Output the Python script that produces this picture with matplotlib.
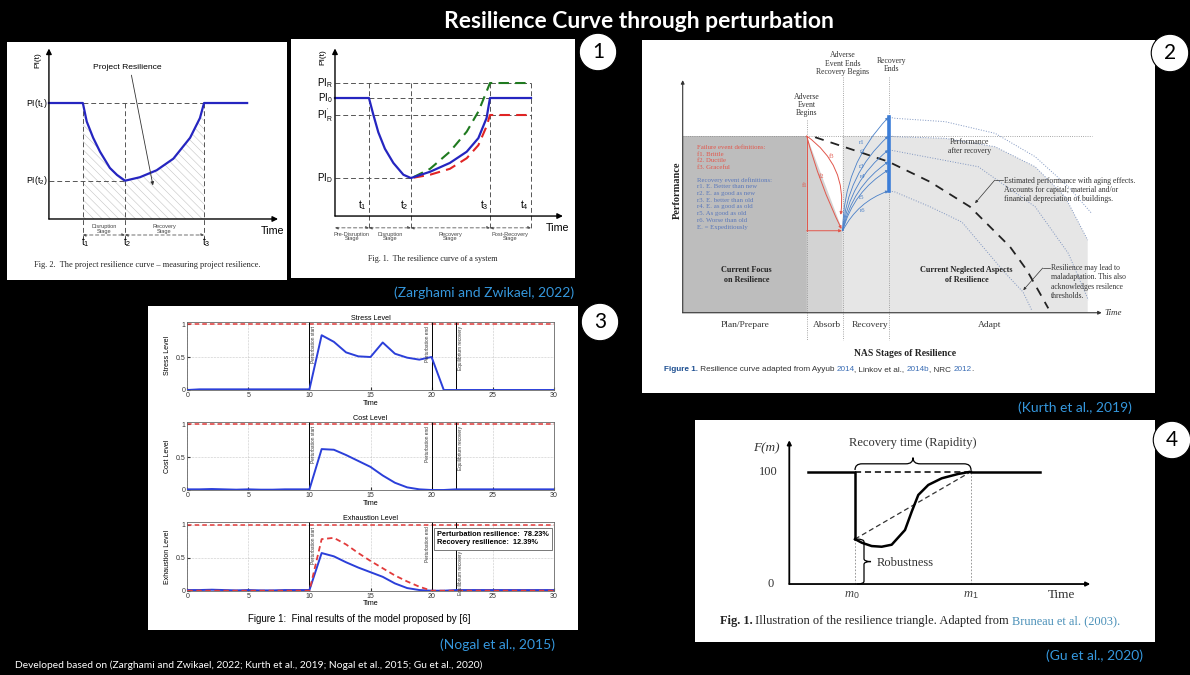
import matplotlib
matplotlib.use('Agg')
import matplotlib.pyplot as plt
from matplotlib.path import Path
from matplotlib.patches import PathPatch

plt.rcParams['font.family'] = ['Liberation Sans', 'DejaVu Sans']
plt.rcParams['mathtext.fontset'] = 'custom'
plt.rcParams['mathtext.rm'] = 'Liberation Sans'
plt.rcParams['mathtext.it'] = 'Liberation Serif:italic'
plt.rcParams['hatch.linewidth'] = 0.4

W, H = 1190, 675

# ---- panel 1 left: project resilience curve (Zarghami and Zwikael)
p1a_time = [0.0, 1.48, 1.65, 1.93, 2.23, 2.66, 2.97, 3.32, 3.97, 4.70, 5.43, 6.16, 6.59, 6.77, 8.65]
p1a_pi = [1.0, 1.0, 0.84, 0.70, 0.58, 0.44, 0.38, 0.33, 0.36, 0.42, 0.52, 0.70, 0.87, 1.0, 1.0]
p1a_marks = [1.48, 3.32, 6.77]
p1a_mark_names = ['t$_\\mathrm{1}$', 't$_\\mathrm{2}$', 't$_\\mathrm{3}$']
p1a_levels = [1.0, 0.33]
p1a_level_names = ['PI(t$_\\mathrm{1}$)', 'PI(t$_\\mathrm{2}$)']
p1a_stages = ['Disruption\nStage', 'Recovery\nStage']

# ---- panel 1 right: resilience curve of a system
p1b_marks = [1.49, 3.33, 6.80, 8.60]
p1b_mark_names = ['t$_\\mathrm{1}$', 't$_\\mathrm{2}$', 't$_\\mathrm{3}$', 't$_\\mathrm{4}$']
p1b_levels = [1.127, 1.0, 0.856, 0.322]
p1b_level_names = ['PI$_\\mathrm{R}$', 'PI$_\\mathrm{0}$', "PI$_\\mathrm{R}^{'}$", 'PI$_\\mathrm{D}$']
p1b_stages = ['Pre-Disruption\nStage', 'Disruption\nStage', 'Recovery\nStage', 'Post-Recovery\nStage']
p1b_blue_t = [0.0, 1.49, 1.68, 1.90, 2.19, 2.56, 3.0, 3.33, 4.17, 5.04, 5.78, 6.29, 6.65, 6.80, 8.60]
p1b_blue_pi = [1.0, 1.0, 0.86, 0.71, 0.57, 0.45, 0.35, 0.322, 0.375, 0.45, 0.545, 0.66, 0.83, 1.0, 1.0]
p1b_alt_t = [3.45, 4.17, 5.04, 5.78, 6.29, 6.65, 6.80, 8.60]
p1b_green_pi = [0.33, 0.40, 0.545, 0.715, 0.885, 1.055, 1.127, 1.127]
p1b_red_pi = [0.325, 0.35, 0.40, 0.49, 0.60, 0.76, 0.856, 0.856]

# ---- panel 2: Kurth et al. resilience stages
p2_stage_x = [3.1, 4.0, 5.165]
p2_perf = 1.0
p2_low = 0.464
p2_rec_levels = [1.106, 1.0, 0.921, 0.855, 0.808, 0.689]
p2_rec_names = ['r1', 'r2', 'r3', 'r4', 'r5', 'r6']
p2_outer_t = [5.165, 5.31, 6.56, 7.81, 8.81, 9.64, 10.225]
p2_outer_y = [1.106, 1.10, 1.081, 1.015, 0.883, 0.713, 0.562]
p2_after_t = [5.165, 5.31, 6.56, 7.81, 8.81, 9.56, 10.125]
p2_after_y = [1.0, 0.996, 0.987, 0.939, 0.826, 0.656, 0.411]
p2_mid_t = [5.165, 5.31, 7.39, 8.81, 9.64, 10.14]
p2_mid_y = [0.921, 0.915, 0.826, 0.60, 0.336, 0.072]
p2_inner_t = [5.165, 5.31, 6.18, 6.98, 8.06, 8.51, 8.725]
p2_inner_y = [0.689, 0.683, 0.60, 0.513, 0.225, 0.117, 0.015]
p2_aging_t = [3.31, 5.14, 6.18, 7.18, 7.68, 8.18, 8.6, 8.93, 9.14]
p2_aging_y = [0.993, 0.855, 0.741, 0.60, 0.487, 0.374, 0.242, 0.11, 0.025]
p2_fail_lines = ['Failure event definitions:', 'f1. Brittle', 'f2. Ductile', 'f3. Graceful']
p2_rec_lines = ['Recovery event definitions:', 'r1. E. Better than new', 'r2. E. as good as new',
                'r3. E. better than old', 'r4. E. as good as old', 'r5. As good as old',
                'r6. Worse than old', 'E. = Expeditiously']
p2_stage_names = ['Plan/Prepare', 'Absorb', 'Recovery', 'Adapt']

# ---- panel 3: Nogal et al. model results
p3_time = list(range(31))
p3_stress = [0.0, 0.01, 0.01, 0.01, 0.01, 0.01, 0.01, 0.01, 0.01, 0.01, 0.01, 0.83, 0.73, 0.57, 0.51, 0.50,
             0.72, 0.55, 0.49, 0.46, 0.50, 0.0, 0.0, 0.0, 0.0, 0.0, 0.0, 0.0, 0.0, 0.0, 0.0]
p3_cost = [0.01, 0.01, 0.015, 0.01, 0.005, 0.01, 0.005, 0.005, 0.01, 0.01, 0.01, 0.62, 0.61, 0.53, 0.44, 0.35,
           0.22, 0.11, 0.04, 0.01, 0.0, 0.0, 0.01, 0.01, 0.01, 0.01, 0.01, 0.01, 0.01, 0.01, 0.01]
p3_exhaust = [0.01, 0.01, 0.015, 0.01, 0.005, 0.01, 0.005, 0.005, 0.01, 0.01, 0.01, 0.57, 0.52, 0.43, 0.35, 0.28,
              0.21, 0.11, 0.04, 0.01, 0.0, 0.0, 0.01, 0.01, 0.01, 0.01, 0.01, 0.01, 0.01, 0.01, 0.01]
p3_exhaust_max = [0.0, 0.0, 0.0, 0.0, 0.0, 0.0, 0.0, 0.0, 0.0, 0.0, 0.0, 0.78, 0.80, 0.70, 0.57, 0.45,
                  0.34, 0.23, 0.14, 0.06, 0.0, 0.0, 0.0, 0.0, 0.0, 0.0, 0.0, 0.0, 0.0, 0.0, 0.0]
p3_events = [10, 20, 22]
p3_event_names = ['Perturbation start', 'Perturbation end', 'Equilibrium recovery']
p3_resilience = [78.23, 12.39]

# ---- panel 4: Gu et al. resilience triangle
p4_marks = [6.57, 18.17]
p4_full = 100
p4_drop = 40
p4_curve_t = [6.57, 7.24, 8.24, 9.24, 10.24, 11.57, 12.24, 12.9, 13.9, 15.24, 16.9, 18.17]
p4_curve_f = [40, 36.8, 33.8, 33.2, 35.0, 48.1, 64.4, 79.3, 88.2, 94.1, 98.0, 100]
p4_span = [1.9, 25.1]

CITE = '#3597dc'


def box(x0, y0, x1, y1):
    return [x0 / W, 1 - y1 / H, (x1 - x0) / W, (y1 - y0) / H]


def white_panel(fig, rect, xlim=None, ylim=None):
    ax = fig.add_axes(rect)
    ax.set_facecolor('white')
    ax.set_xticks([])
    ax.set_yticks([])
    for s in ax.spines.values():
        s.set_visible(False)
    if xlim:
        ax.set_xlim(xlim)
    if ylim:
        ax.set_ylim(ylim)
    return ax


def arrow(ax, start, end, color='black', lw=1.0, size=8, style='-|>', rad=0.0, ls='-'):
    ax.annotate('', xy=end, xytext=start,
                arrowprops=dict(arrowstyle=style, color=color, lw=lw, mutation_scale=size,
                                shrinkA=0, shrinkB=0, ls=ls,
                                connectionstyle=f'arc3,rad={rad}'))


def chain_text(ax, x, y, pieces, **kw):
    prev = ax.text(x, y, pieces[0][0], color=pieces[0][1], fontweight=pieces[0][2],
                   transform=ax.transAxes, va='baseline', ha='left', **kw)
    for txt, color, weight in pieces[1:]:
        prev = ax.annotate(txt, xy=(1, 0), xycoords=prev, color=color, fontweight=weight,
                           va='bottom', ha='left', **kw)


def brace(ax, x0, x1, y0, h, r, vertical=False, **kw):
    mid = (x0 + x1) / 2
    pts = [(x0, y0), (x0, y0 + h / 2), (x0 + r, y0 + h / 2), (mid - r, y0 + h / 2),
           (mid, y0 + h / 2), (mid, y0 + h), (mid, y0 + h / 2), (mid + r, y0 + h / 2),
           (x1 - r, y0 + h / 2), (x1, y0 + h / 2), (x1, y0)]
    if vertical:
        pts = [(b, a) for a, b in pts]
    codes = [Path.MOVETO, Path.CURVE3, Path.CURVE3, Path.LINETO, Path.CURVE3, Path.CURVE3,
             Path.CURVE3, Path.CURVE3, Path.LINETO, Path.CURVE3, Path.CURVE3]
    ax.add_patch(PathPatch(Path(pts, codes), fc='none', **kw))


def panel_project_curve(fig):
    ax = white_panel(fig, box(7, 42, 287, 280), (-1.83, 10.39), (-0.526, 1.526))
    t1, t2, t3 = p1a_marks
    hi, lo = p1a_levels
    dash = dict(color='#555555', lw=0.7, dashes=(5, 3))
    ax.fill_between(p1a_time[1:14], 0, p1a_pi[1:14], facecolor='none', edgecolor='#c4c4c4',
                    hatch='\\\\\\\\', lw=0)
    ax.plot([t1, t3], [hi, hi], **dash)
    ax.plot([0, t2], [lo, lo], **dash)
    for t, name in zip(p1a_marks, p1a_mark_names):
        ax.plot([t, t], [hi, -0.16], **dash)
        ax.text(t + 0.1, -0.2, name, fontsize=7.5, ha='center', va='center')
    ax.plot(p1a_time, p1a_pi, color='#2525c0', lw=1.6)
    arrow(ax, (0, 0), (0, 1.47))
    arrow(ax, (0, 0), (10, 0))
    for lv, name in zip(p1a_levels, p1a_level_names):
        ax.text(-0.06, lv, name, fontsize=6.3, ha='right', va='center')
    ax.text(-0.5, 1.37, 'PI(t)', fontsize=6, rotation=90, ha='center', va='center')
    ax.text(9.75, -0.1, 'Time', fontsize=7.7, ha='center', va='center')
    for a, b, name in zip(p1a_marks[:-1], p1a_marks[1:], p1a_stages):
        arrow(ax, (a, -0.138), (b, -0.138), color='#555555', lw=0.6, size=4, style='<|-|>', ls=(0, (4, 3)))
        ax.text((a + b) / 2, -0.085, name, fontsize=4.1, ha='center', va='center', color='#444444',
                linespacing=0.85)
    ax.text(3.41, 1.31, 'Project Resilience', fontsize=6.1, ha='center', va='center')
    arrow(ax, (3.6, 1.24), (4.54, 0.29), color='#333333', lw=0.6, size=5)
    ax.text(0.5, 0.063, 'Fig. 2.  The project resilience curve – measuring project resilience.',
            transform=ax.transAxes, fontsize=6, family='Liberation Serif', ha='center', va='center',
            color='#222222')


def panel_system_curve(fig):
    ax = white_panel(fig, box(291, 39, 575, 278), (-1.93, 10.53), (-0.525, 1.5))
    t1, t2, t3, t4 = p1b_marks
    r_hi, base, r_lo, low = p1b_levels
    dash = dict(color='#555555', lw=0.7, dashes=(5, 3))
    ax.plot([0, t4], [r_hi, r_hi], **dash)
    ax.plot([t1, t4], [base, base], **dash)
    ax.plot([0, t4], [r_lo, r_lo], **dash)
    ax.plot([0, t2], [low, low], **dash)
    for t, name in zip(p1b_marks, p1b_mark_names):
        ax.plot([t, t], [r_hi, -0.11], **dash)
        ax.text(t - 0.08, 0.03, name, fontsize=7.5, ha='right', va='bottom')
    ax.plot(p1b_alt_t, p1b_green_pi, color='#1f7a1f', lw=1.5, dashes=(5, 3))
    ax.plot(p1b_alt_t, p1b_red_pi, color='#e02424', lw=1.5, dashes=(5, 3))
    ax.plot(p1b_blue_t, p1b_blue_pi, color='#2525c0', lw=1.6)
    arrow(ax, (0, 0), (0, 1.42))
    arrow(ax, (0, 0), (10, 0))
    for lv, name in zip(p1b_levels, p1b_level_names):
        ax.text(-0.1, lv, name, fontsize=7, ha='right', va='center')
    ax.text(-0.55, 1.35, 'PI(t)', fontsize=6, rotation=90, ha='center', va='center')
    ax.text(9.75, -0.1, 'Time', fontsize=7.7, ha='center', va='center')
    edges = [0] + p1b_marks
    for a, b, name in zip(edges[:-1], edges[1:], p1b_stages):
        arrow(ax, (a, -0.1), (b, -0.1), color='#555555', lw=0.6, size=4, style='<|-|>', ls=(0, (4, 3)))
        ax.text((a + b) / 2, -0.175, name, fontsize=4.1, ha='center', va='center', color='#444444',
                linespacing=0.9)
    ax.text(0.5, 0.08, 'Fig. 1.  The resilience curve of a system', transform=ax.transAxes,
            fontsize=5.9, family='Liberation Serif', ha='center', va='center', color='#222222')


def panel_stages(fig):
    ax = white_panel(fig, box(642, 40, 1155, 393), (-1.0175, 11.8075), (-0.454, 1.543))
    ev, rb, re = p2_stage_x
    perf, low = p2_perf, p2_low
    serif = 'Liberation Serif'
    # shaded regions
    ax.fill_between([0, ev], 0, perf, color='#bdbdbd', lw=0)
    ax.fill([ev, ev, rb, rb], [0, perf, low, 0], color='#d3d3d3', lw=0)
    ax.fill([rb, rb] + p2_after_t + [p2_after_t[-1]], [0, perf] + p2_after_y + [0],
            color='#e6e6e6', lw=0)
    ax.plot([0, p2_outer_t[-1]], [perf, perf], ls=':', color='#8a8a8a', lw=0.6)
    for x, top in zip(p2_stage_x, [1.09, 1.336, 1.336]):
        ax.plot([x, x], [top, -0.155], ls=':', color='#8a8a8a', lw=0.6)
    dot = dict(ls=':', color='#7f95c0', lw=0.7)
    ax.plot(p2_outer_t, p2_outer_y, **dot)
    ax.plot(p2_after_t, p2_after_y, **dot)
    ax.plot(p2_mid_t, p2_mid_y, **dot)
    ax.plot(p2_inner_t, p2_inner_y, **dot)
    ax.plot(p2_aging_t, p2_aging_y, color='#222222', lw=1.3, dashes=(5, 4))
    # failure paths
    red = '#e2574c'
    ax.plot([ev, ev], [perf, low], color=red, lw=0.7)
    arrow(ax, (ev, low), (rb - 0.02, low), color=red, lw=0.7, size=4)
    arrow(ax, (ev, perf), (rb - 0.03, low + 0.01), color=red, lw=0.7, size=4, rad=0.05)
    arrow(ax, (ev, perf), (rb - 0.05, low + 0.09), color=red, lw=0.7, size=4, rad=-0.3)
    for name, x, y in zip(['f1', 'f2', 'f3'], [3.04, 3.47, 3.72], [0.72, 0.77, 0.883]):
        ax.text(x, y, name, fontsize=4.8, color=red, family=serif, ha='center', va='center')
    # recovery paths
    blue = '#4a80c8'
    for lv in p2_rec_levels:
        arrow(ax, (rb, low), (re - 0.02, lv), color=blue, lw=0.6, size=4, rad=-0.2)
    for name, x, y in zip(p2_rec_names, [4.47, 4.51, 4.47, 4.51, 4.47, 4.51],
                          [0.964, 0.911, 0.83, 0.77, 0.653, 0.581]):
        ax.text(x, y, name, fontsize=4.8, color=blue, family=serif, ha='center', va='center')
    ax.plot([re, re], [p2_rec_levels[-1], p2_rec_levels[0]], color='#3b7dd8', lw=2.6)
    arrow(ax, (0, 0), (0, 1.316), color='#333333', lw=0.8, size=5)
    arrow(ax, (0, 0), (10.475, 0), color='#333333', lw=0.8, size=5)
    # definitions
    for i, line in enumerate(p2_fail_lines):
        ax.text(0.35, 0.936 - i * 0.038, line, fontsize=4.9, color=red, family=serif, va='center')
    for i, line in enumerate(p2_rec_lines):
        ax.text(0.35, 0.751 - i * 0.038, line, fontsize=4.9, color='#5a78bb', family=serif, va='center')
    # labels
    ax.text(ev, 1.175, 'Adverse\nEvent\nBegins', fontsize=5.6, family=serif, ha='center', va='center',
            linespacing=1.05, color='#333333')
    ax.text(rb, 1.41, 'Adverse\nEvent Ends\nRecovery Begins', fontsize=5.6, family=serif, ha='center',
            va='center', linespacing=1.05, color='#333333')
    ax.text(re + 0.05, 1.40, 'Recovery\nEnds', fontsize=5.6, family=serif, ha='center', va='center',
            linespacing=1.05, color='#333333')
    ax.text(-0.14, 0.694, 'Performance', fontsize=7.5, fontweight='bold', family=serif, rotation=90,
            ha='center', va='center', color='#222222')
    for name, x in zip(p2_stage_names, [1.56, 3.6, 4.68, 7.68]):
        ax.text(x, -0.07, name, fontsize=6.8, family=serif, ha='center', va='center', color='#333333')
    ax.text(10.75, 0.0, 'Time', fontsize=6.5, family=serif, style='italic', ha='center', va='center',
            color='#333333')
    ax.text(5.56, -0.228, 'NAS Stages of Resilience', fontsize=6.9, fontweight='bold', family=serif,
            ha='center', va='center', color='#222222')
    ax.text(1.6, 0.213, 'Current Focus\non Resilience', fontsize=5.9, fontweight='bold', family=serif,
            ha='center', va='center', color='#222222')
    ax.text(7.1, 0.213, 'Current Neglected Aspects\nof Resilience', fontsize=5.9, fontweight='bold',
            family=serif, ha='center', va='center', color='#222222')
    ax.text(7.18, 0.94, 'Performance\nafter recovery', fontsize=5.6, family=serif, ha='center',
            va='center', color='#333333')
    ax.text(8.02, 0.694, 'Estimated performance with aging effects.\nAccounts for capital; material and/or\n'
            'financial depreciation of buildings.', fontsize=5.6, family=serif, va='center',
            color='#333333')
    ax.plot([8.0, 7.8], [0.75, 0.75], color='#333333', lw=0.5)
    arrow(ax, (7.8, 0.75), (7.31, 0.62), color='#333333', lw=0.5, size=4)
    ax.text(9.2, 0.174, 'Resilience may lead to\nmaladaptation. This also\nacknowledges resilence\n'
            'thresholds.', fontsize=5.5, family=serif, va='center', color='#333333')
    ax.plot([9.18, 9.0], [0.253, 0.253], color='#333333', lw=0.5)
    arrow(ax, (9.0, 0.253), (8.515, 0.128), color='#333333', lw=0.5, size=4)
    chain_text(ax, 0.042, 0.062, [('Figure 1.', '#1d4f91', 'bold'),
                                  (' Resilience curve adapted from Ayyub ', '#333333', 'normal'),
                                  ('2014', '#3a6db5', 'normal'), (', Linkov et al., ', '#333333', 'normal'),
                                  ('2014b', '#3a6db5', 'normal'), (', NRC ', '#333333', 'normal'),
                                  ('2012', '#3a6db5', 'normal'), ('.', '#333333', 'normal')],
               fontsize=5.9)


def level_plot(fig, rect, title, ylabel, values, extra=None):
    ax = fig.add_axes(rect)
    ax.plot(p3_time, values, color='#2b3fd9', lw=1.4, zorder=3)
    if extra is not None:
        ax.plot(p3_time, extra, color='#e23b3b', lw=1.3, dashes=(3, 2), zorder=3)
    ax.axhline(1.0, color='#e23b3b', lw=1.1, dashes=(3, 2))
    for x, name in zip(p3_events, p3_event_names):
        ax.axvline(x, color='black', lw=0.7)
        side = 'right' if x == 20 else 'left'
        top = 0.6 if (extra is not None and x == 22) else 0.97
        ax.text(x - 0.15 if side == 'right' else x + 0.15, top, name, rotation=90, fontsize=3.4,
                ha=side, va='top', color='#333333')
    ax.set_xlim(0, 30)
    ax.set_ylim(0, 1.035)
    ax.set_xticks([0, 5, 10, 15, 20, 25, 30])
    ax.set_yticks([0, 0.5, 1])
    ax.set_yticklabels(['0', '0.5', '1'])
    ax.tick_params(labelsize=5, length=2, direction='in', pad=1.5, colors='#333333')
    ax.grid(True, ls=':', lw=0.4, color='#999999')
    ax.set_title(title, fontsize=5.2, pad=1.5)
    ax.set_xlabel('Time', fontsize=5.2, labelpad=0.5)
    ax.set_ylabel(ylabel, fontsize=5, labelpad=3)
    for s in ax.spines.values():
        s.set_color('#666666')
        s.set_linewidth(0.6)
    return ax


def panel_model(fig):
    ax = white_panel(fig, box(148, 306, 578, 630))
    ax.text(0.492, 0.033, 'Figure 1:  Final results of the model proposed by [6]', transform=ax.transAxes,
            fontsize=7, ha='center', va='center')
    level_plot(fig, box(187.3, 321.7, 553.7, 390), 'Stress Level', 'Stress Level', p3_stress)
    level_plot(fig, box(187.3, 421.7, 553.7, 490), 'Cost Level', 'Cost Level', p3_cost)
    ax3 = level_plot(fig, box(187.3, 522.3, 553.7, 590.7), 'Exhaustion Level', 'Exhaustion Level',
                     p3_exhaust, p3_exhaust_max)
    ax3.text(20.45, 0.9, f'Perturbation resilience:  {p3_resilience[0]:.2f}%\n'
             f'Recovery resilience:  {p3_resilience[1]:.2f}%', fontsize=5.3, fontweight='bold',
             va='top', ha='left', zorder=5, linespacing=1.2,
             bbox=dict(fc='white', ec='#444444', lw=0.5, boxstyle='square,pad=0.45'))


def panel_triangle(fig):
    ax = white_panel(fig, box(695, 420, 1155, 642), (-9.43, 36.57), (-51.6, 146.0))
    m0, m1 = p4_marks
    serif = 'Liberation Serif'
    ax.plot([m0, m0], [0, p4_drop], color='#888888', lw=0.6, dashes=(2, 2))
    ax.plot([m1, m1], [0, p4_full], color='#888888', lw=0.6, dashes=(2, 2))
    ax.plot([m0, m1], [p4_full, p4_full], color='black', lw=1.1, dashes=(4, 2.5))
    ax.plot([m0, m1], [p4_drop, p4_full], color='#333333', lw=0.9, dashes=(4, 2.5))
    ax.plot([p4_span[0], m0, m0], [p4_full, p4_full, p4_drop], color='black', lw=1.8)
    ax.plot(p4_curve_t, p4_curve_f, color='black', lw=1.8)
    ax.plot([m1, p4_span[1]], [p4_full, p4_full], color='black', lw=1.8)
    arrow(ax, (0, 0), (0, 128), lw=1.3, size=6)
    arrow(ax, (0, 0), (30.1, 0), lw=1.3, size=6)
    brace(ax, m0, m1, p4_full + 1.5, 11, 0.7, ec='black', lw=0.9)
    brace(ax, 0, p4_drop, m0 + 0.2, 1.4, 2.5, vertical=True, ec='black', lw=0.9)
    ax.text((m0 + m1) / 2, 125.3, 'Recovery time (Rapidity)', fontsize=9, family=serif,
            ha='center', va='center', color='#333333')
    ax.text(11.64, 19, 'Robustness', fontsize=9, family=serif, ha='center', va='center', color='#333333')
    ax.text(-2.3, 121, 'F(m)', fontsize=9.5, family=serif, style='italic', ha='center', va='center',
            color='#333333')
    ax.text(-1.2, p4_full, '100', fontsize=9, family=serif, ha='right', va='center', color='#333333')
    ax.text(-1.6, 0, '0', fontsize=9, family=serif, ha='right', va='center', color='#333333')
    ax.text(m0 - 0.3, -9.8, '$m_\\mathrm{0}$', fontsize=9, ha='center', va='center', color='#444444')
    ax.text(m1, -9.8, '$m_\\mathrm{1}$', fontsize=9, ha='center', va='center', color='#444444')
    ax.text(27.2, -9.8, 'Time', fontsize=9.5, family=serif, ha='center', va='center', color='#333333')
    chain_text(ax, 0.054, 0.08, [('Fig. 1.', '#222222', 'bold'),
                                 (' Illustration of the resilience triangle. Adapted from ', '#222222', 'normal'),
                                 ('Bruneau et al. (2003).', '#4a90b8', 'normal')],
               fontsize=8.9, family=serif)


fig = plt.figure(figsize=(11.9, 6.75), dpi=100, facecolor='black')

panel_project_curve(fig)
panel_system_curve(fig)
panel_stages(fig)
panel_model(fig)
panel_triangle(fig)

fig.text(639 / W, 1 - 22 / H, 'Resilience Curve through perturbation', color='white', fontsize=16.5,
         fontweight='bold', family='Lato', ha='center', va='center')
for num, (x, y) in zip(['1', '2', '3', '4'], [(598, 52), (1170, 53), (600, 322), (1172, 440)]):
    fig.text(x / W, 1 - y / H, num, fontsize=15, family='Lato', ha='center', va='center',
             bbox=dict(boxstyle='circle,pad=0.42', fc='white', ec='black', lw=0.8))
for txt, x, y in [('(Zarghami and Zwikael, 2022)', 484, 293), ('(Kurth et al., 2019)', 1075, 408),
                  ('(Nogal et al., 2015)', 497, 645), ('(Gu et al., 2020)', 1095, 656)]:
    fig.text(x / W, 1 - y / H, txt, color=CITE, fontsize=10, family='Lato', ha='center', va='center')
fig.text(15 / W, 1 - 665 / H, 'Developed based on (Zarghami and Zwikael, 2022; Kurth et al., 2019; '
         'Nogal et al., 2015; Gu et al., 2020)', color='white', fontsize=7.4, family='Lato',
         ha='left', va='center')

fig.savefig('out.png', dpi=100, facecolor='black')
